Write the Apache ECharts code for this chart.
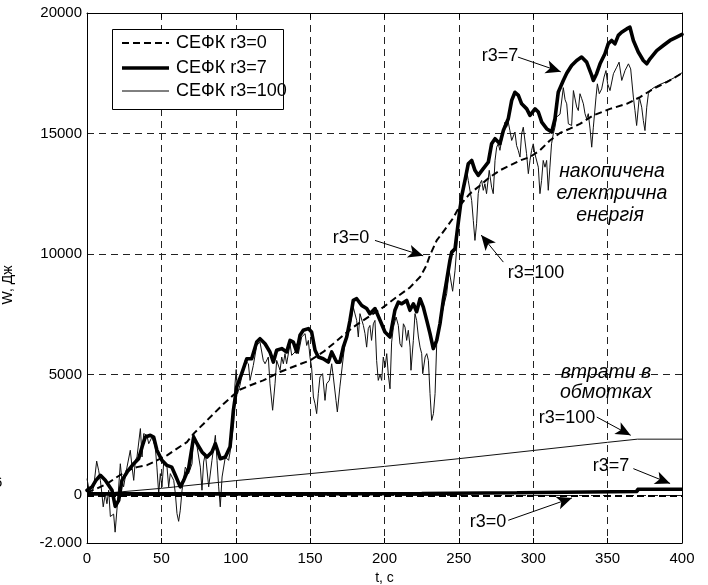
<!DOCTYPE html>
<html>
<head>
<meta charset="utf-8">
<script src="https://cdn.jsdelivr.net/npm/echarts@6/dist/echarts.min.js"></script>
<style>
  html, body { margin: 0; padding: 0; background: #fff; }
  #chart { width: 708px; height: 585px; }
</style>
</head>
<body>
<div id="chart"></div>
<script>
// Накопичена енергія та втрати в обмотках для СЕФК при різних r3
const seriesNames = ['СЕФК r3=0', 'СЕФК r3=7', 'СЕФК r3=100'];

// r3=0: накопичена енергія (штрихова)
const tE0 = [0, 6.7, 13.4, 20.2, 26.9, 33.6, 40.3, 47, 53.8, 60.5, 67.2, 71.7, 78.4, 85.2, 91.9, 98.6, 103, 109.5, 118.5, 129.7, 140.9, 149.9, 158.8, 165.6, 172.3, 179, 185.7, 192.5, 199.2, 208.2, 217, 224, 228, 230.6, 235.1, 241.8, 246.3, 250.7, 257.4, 264.2, 270.9, 277.6, 284.3, 291.1, 297.8, 304.5, 311.2, 318, 324.7, 331.4, 340.4, 351.6, 362.8, 371.8, 380.7, 389.7, 400];
const wE0 = [100, 260, 460, 740, 1000, 1150, 1230, 1430, 1640, 1920, 2190, 2540, 2950, 3370, 3780, 4150, 4370, 4540, 4750, 5100, 5370, 5580, 5930, 6270, 6620, 6960, 7240, 7520, 7790, 8210, 8600, 9050, 9500, 9950, 10560, 11110, 11500, 12010, 12500, 12840, 13190, 13470, 13670, 13880, 14020, 14300, 14710, 15020, 15200, 15400, 15750, 16020, 16230, 16510, 16850, 17130, 17500];

// r3=7: накопичена енергія (товста)
const tE7 = [0, 1.5, 3.4, 6, 9, 12.3, 16.8, 19, 21.3, 23.5, 27, 31.4, 34.7, 37, 39.2, 42.6, 44.8, 47, 50.4, 53.8, 57, 59.4, 62.7, 65, 68.3, 71.7, 74, 77.3, 80.7, 84, 86.3, 89.6, 93, 96.2, 98.4, 100.6, 104, 107.4, 110.7, 114.1, 116.3, 119.7, 123, 125.3, 127.5, 130.9, 134.2, 136.5, 138.7, 141, 143.2, 145.4, 148.8, 151, 153.3, 155.5, 158.8, 162.2, 164.5, 167.8, 170, 172.3, 174.6, 176.8, 179, 181.3, 184.7, 188, 190.2, 193.6, 197, 200.3, 203.7, 207, 209.3, 211.6, 214.9, 217.1, 219.4, 221.6, 223.9, 226.1, 228.4, 230.6, 232.8, 235.1, 237.3, 239.5, 241.8, 244, 245.2, 247.4, 249.6, 251.9, 254.1, 256.3, 258.6, 260.8, 263, 266.4, 269.8, 272, 274.3, 277.6, 279.9, 283.2, 285.5, 287.7, 290, 292.2, 295.6, 297.8, 301.2, 303.4, 305.7, 309, 312.4, 314.6, 316.8, 320.2, 322.5, 325.8, 329.2, 332.5, 335.9, 339.3, 340.4, 342.6, 344.9, 348.2, 350.4, 352.7, 354.9, 357.2, 359.4, 362.8, 365, 367.3, 370.6, 374, 376.3, 378.5, 383, 387.4, 391.9, 396.4, 400];
const wE7 = [190, 250, 330, 600, 810, 600, 190, -480, -230, 600, 950, 1290, 1500, 1990, 2400, 2470, 2400, 1850, 1430, 1220, 1150, 810, 330, 600, 1090, 2400, 2120, 1780, 1570, 1780, 2120, 1500, 1570, 2000, 3500, 4470, 5030, 5650, 5650, 6340, 6480, 6270, 5930, 5510, 6000, 6070, 5930, 6410, 6340, 5930, 6620, 6830, 6900, 6760, 6000, 5720, 5650, 5510, 5930, 5510, 5510, 6130, 6550, 7240, 8070, 8140, 7860, 7730, 7520, 7730, 7250, 6760, 6550, 7660, 8000, 7930, 8070, 7660, 7930, 7600, 8140, 7790, 7240, 6690, 6070, 6410, 7100, 8070, 8900, 9730, 10075, 10210, 11300, 12400, 13050, 13740, 13880, 13470, 13260, 13540, 13810, 14570, 14780, 14570, 15120, 15610, 16370, 16710, 16580, 16230, 16020, 15750, 16020, 15890, 15470, 15200, 15060, 15610, 16710, 17200, 17500, 17820, 18030, 18170, 17960, 17410, 17200, 17480, 17890, 18310, 18720, 18860, 18720, 19070, 19200, 19340, 19410, 18860, 18380, 18030, 17890, 18100, 18440, 18650, 18860, 19000, 19110];

// r3=100: накопичена енергія (тонка)
const tE100 = [0, 1.1, 2.2, 4.5, 6.5, 7.8, 9, 10, 10.9, 12.3, 13.4, 14.6, 15.7, 17.9, 18.9, 20.8, 22.4, 23.5, 24.6, 26.9, 29.1, 30.3, 31.4, 32.5, 33.6, 35.9, 37, 38.1, 40.3, 41.5, 43.7, 45.9, 47, 48.2, 49.3, 50.4, 51.5, 53.8, 54.9, 56, 58.3, 59.4, 60.5, 61.6, 62.7, 63.9, 66.1, 68.3, 70.6, 71.7, 74, 76.2, 77.3, 78.4, 79.6, 81.8, 84, 86.3, 87.4, 88.5, 89.6, 90.8, 93, 95.2, 96.4, 98.6, 99.5, 100.3, 101.2, 102.8, 106.2, 108.5, 109.6, 111.8, 114.1, 116.3, 118.5, 119.7, 121.9, 123, 124.8, 126.4, 127.5, 129.8, 130.9, 132, 133.1, 134.2, 136.5, 137.6, 139.9, 141, 142.1, 144.3, 146.6, 147.7, 148.8, 149.9, 151, 152.2, 153.3, 154.4, 155.5, 156.6, 158.4, 160, 161.1, 162.9, 164.5, 165.6, 167.4, 168.3, 170, 172.3, 173.4, 175.7, 177.9, 179, 181.3, 182.4, 183.5, 185.8, 186.9, 188, 189.1, 190.2, 191.3, 192.5, 193.6, 194.7, 195.8, 197, 198.1, 199.2, 200.4, 201.5, 202.6, 203.7, 204.8, 206, 207.8, 209.3, 210.4, 211.6, 212.7, 213.8, 214.9, 216, 217.2, 217.8, 219.4, 220.5, 221.6, 222.8, 223.9, 225, 225.7, 227.3, 228.4, 229.5, 230.6, 231.7, 232.9, 234, 235.1, 237.3, 239.6, 241.8, 243.5, 245.8, 247.4, 248.5, 249.6, 250.7, 253, 255.2, 256.3, 258.6, 259.7, 260.8, 261.9, 263, 264.2, 265.3, 266.4, 267.5, 268.6, 270.4, 272, 273.1, 274.3, 275.4, 276.5, 277.6, 278.7, 279.9, 281, 282.1, 283.2, 284.3, 285.5, 286.6, 287.7, 288.8, 289.9, 291.1, 292.2, 293.3, 295.5, 296.7, 297.8, 298.9, 300, 301.1, 302.3, 303.4, 304.5, 305.6, 306.7, 307.9, 309, 310.1, 311.2, 312.3, 313.5, 314.6, 315.7, 318, 320.2, 321.4, 322.5, 323.6, 325.8, 327, 329.2, 330.3, 331.4, 332.6, 333.7, 334.8, 335.9, 337, 338.2, 339.3, 340.4, 342.2, 343.1, 344.4, 346, 347.6, 348.9, 350, 351.6, 353.9, 356.1, 357.7, 359.5, 361.7, 364, 365.5, 367.3, 368.4, 369.5, 371.3, 372.9, 374, 375.1, 376.3, 377.4, 378.5, 381, 385, 390, 395, 400];
const wE100 = [670, 600, -90, 330, 1400, 1020, 600, 50, -500, 50, -370, 190, -900, -800, -1550, -100, 1290, 600, 330, 1150, 1850, 1150, 600, 1430, 1570, 2750, 1570, 2540, 2470, 2120, 2400, 1990, 1150, 50, 880, 330, 1290, 1150, 330, 880, 600, 50, -780, -1100, -640, 190, 1150, 880, 1290, 2540, 1990, 1150, 190, 1360, 1710, 330, 1430, 2470, 1430, 330, -500, 740, 1570, 1430, 1850, 2960, 4600, 5200, 4200, 4540, 5580, 5440, 4750, 5370, 6200, 6340, 5580, 5440, 5720, 4610, 3510, 4610, 5580, 5170, 5720, 5440, 5860, 5440, 6270, 5790, 5930, 6270, 5860, 6550, 6690, 6200, 6410, 5720, 5300, 4060, 3780, 3370, 4200, 4890, 5030, 3920, 4610, 4750, 5440, 4890, 3920, 3440, 4480, 5720, 6270, 6690, 7380, 7790, 7240, 6550, 7520, 7030, 6690, 6130, 6900, 7030, 6410, 7100, 7240, 5580, 4750, 5000, 4750, 5720, 5300, 5860, 4960, 4400, 6340, 6960, 7380, 7030, 6270, 6130, 7100, 6960, 6410, 6830, 6130, 5170, 6410, 7520, 7240, 6550, 6130, 5860, 5030, 5720, 5860, 5580, 4200, 3090, 3370, 4200, 6270, 7100, 7790, 8350, 9300, 8450, 9300, 10200, 11500, 12220, 12770, 13470, 13050, 12220, 11390, 10560, 11250, 12500, 12910, 13050, 12640, 12910, 12500, 13470, 12770, 12500, 13880, 14430, 14570, 14300, 14360, 15120, 15470, 15260, 15470, 15120, 14710, 14640, 15060, 14500, 14300, 14020, 14990, 15260, 14160, 13330, 13880, 14300, 14570, 14160, 14160, 13600, 12500, 13050, 13880, 13600, 13880, 12640, 13600, 14570, 14990, 15260, 15680, 15800, 16900, 16400, 16230, 15400, 15330, 16780, 16100, 15950, 16650, 16440, 16230, 15820, 15610, 15820, 15190, 14430, 15260, 16510, 17060, 16650, 16850, 17340, 17610, 17060, 16780, 17480, 17750, 17960, 17200, 17610, 17890, 17680, 16510, 15950, 15330, 16510, 16090, 15540, 15120, 16090, 16650, 16780, 16900, 17030, 17160, 17320, 17520];

// Втрати в обмотках
const tL0 = [0, 400];
const wL0 = [-50, -50];
const tL7 = [0, 140, 225, 289, 370, 400];
const wL7 = [40, 55, 85, 140, 230, 230];
const tL100 = [0, 50, 100, 150, 200, 250, 300, 350, 370, 400];
const wL100 = [0, 270, 590, 880, 1180, 1500, 1840, 2180, 2310, 2310];

// Вісь ординат: підписи, які показуються
const yTickLabels = { '-2000': '-2.000', '0': '0', '5000': '5000', '10000': '10000', '15000': '15000', '20000': '20000' };

// Стрілки до кривих: [t_від, W_від, t_до, W_до]
const arrows = [
  [289.7, 18170, 318.5, 17560],
  [193.6, 10560, 226.0, 9920],
  [279.9, 9660, 265.0, 10780],
  [342.7, 3228, 365.5, 2470],
  [367.3, 1087, 392.0, 470],
  [283.2, -1058, 326.0, -130]
];

const FONT = 'Liberation Sans, Arial, sans-serif';
const zip = (t, w) => t.map((x, i) => [x, w[i]]);

const chart = echarts.init(document.getElementById('chart'), null, { renderer: 'canvas' });

const baseLine = (name, data, style, extra) => Object.assign({
  type: 'line', name, data,
  showSymbol: false, symbol: 'none',
  animation: false, silent: true,
  lineStyle: style,
  itemStyle: { color: '#000' },
  xAxisIndex: 0, yAxisIndex: 0
}, extra || {});

const thinStyle = { color: '#111', width: 1, type: 'solid' };
const thickStyle = { color: '#000', width: 3.6, type: 'solid', join: 'round', cap: 'round' };
const dashStyle = { color: '#000', width: 2, type: [7, 4] };

// Легенда: рамка, зразки ліній і підписи
const legendRows = [
  { y: 43, style: { stroke: '#000', lineWidth: 2, lineDash: [7, 4] } },
  { y: 68, style: { stroke: '#000', lineWidth: 3.6 } },
  { y: 91, style: { stroke: '#000', lineWidth: 1 } }
];
const legendGraphic = [
  { type: 'rect', z: 100, shape: { x: 112.5, y: 29.5, width: 171, height: 80 }, style: { fill: '#fff', stroke: '#000', lineWidth: 1 } }
];
legendRows.forEach((r, i) => {
  legendGraphic.push({ type: 'line', z: 101, shape: { x1: 122, y1: r.y, x2: 169, y2: r.y }, style: r.style });
  legendGraphic.push({ type: 'text', z: 101, x: 176, y: r.y, style: { text: seriesNames[i], font: '18px ' + FONT, fill: '#000', align: 'left', verticalAlign: 'middle' } });
});

const label = (text, x, y, italic) => ({
  type: 'text', z: 50, x, y,
  style: { text, font: (italic ? 'italic 19.5px ' : '18px ') + FONT, fill: '#000', align: 'center', verticalAlign: 'middle' }
});

const option = {
  backgroundColor: '#fff',
  animation: false,
  grid: { left: 87, right: 26, top: 13, bottom: 42, containLabel: false, outerBoundsMode: 'none' },
  xAxis: [{
    type: 'value', min: 0, max: 400, interval: 50,
    name: 't, c', nameLocation: 'middle', nameGap: 25,
    nameTextStyle: { fontSize: 14, color: '#000', fontFamily: FONT },
    axisLine: { show: true, onZero: false, lineStyle: { color: '#000', width: 1 } },
    axisTick: { show: true, inside: true, length: 5, lineStyle: { color: '#000' } },
    axisLabel: { fontSize: 15, color: '#000', fontFamily: FONT, margin: 8 },
    splitLine: { show: true, lineStyle: { color: '#222', width: 1, type: [7, 5] } }
  }, {
    type: 'value', min: 0, max: 400, interval: 50, position: 'top',
    axisLine: { show: true, onZero: false, lineStyle: { color: '#000', width: 1 } },
    axisTick: { show: true, inside: true, length: 5, lineStyle: { color: '#000' } },
    axisLabel: { show: false }, splitLine: { show: false }
  }],
  yAxis: [{
    type: 'value', min: -2000, max: 20000, interval: 1000,
    axisLine: { show: true, onZero: false, lineStyle: { color: '#000', width: 1 } },
    axisTick: { show: false },
    axisLabel: {
      fontSize: 15, color: '#000', fontFamily: FONT, margin: 5,
      verticalAlignMinLabel: 'middle', verticalAlignMaxLabel: 'middle',
      formatter: v => (yTickLabels[String(v)] !== undefined ? yTickLabels[String(v)] : '')
    },
    splitLine: {
      show: true,
      lineStyle: { color: ['rgba(0,0,0,0)', 'rgba(0,0,0,0)', '#222', 'rgba(0,0,0,0)', 'rgba(0,0,0,0)'], width: 1, type: [7, 5] }
    }
  }, {
    type: 'value', min: -2000, max: 20000, position: 'right',
    axisLine: { show: true, onZero: false, lineStyle: { color: '#000', width: 1 } },
    axisTick: { show: false }, axisLabel: { show: false }, splitLine: { show: false }
  }],
  series: [
    baseLine(seriesNames[2], zip(tE100, wE100), thinStyle, { z: 2 }),
    baseLine(seriesNames[2], zip(tL100, wL100), thinStyle, { z: 2 }),
    baseLine(seriesNames[1], zip(tE7, wE7), thickStyle, { z: 3 }),
    baseLine(seriesNames[1], zip(tL7, wL7), { color: '#000', width: 3.6, type: 'solid' }, { z: 3, step: 'end' }),
    baseLine(seriesNames[0], zip(tE0, wE0), dashStyle, { z: 4 }),
    baseLine(seriesNames[0], zip(tL0, wL0), dashStyle, {
      z: 4,
      markLine: {
        silent: true, animation: false,
        symbol: ['none', 'arrow'], symbolSize: [10, 15],
        lineStyle: { color: '#000', width: 1, type: 'solid' },
        itemStyle: { color: '#000' },
        label: { show: false },
        data: arrows.map(a => [{ coord: [a[0], a[1]] }, { coord: [a[2], a[3]] }])
      }
    })
  ],
  graphic: legendGraphic.concat([
    label('r3=7', 500, 56),
    label('r3=0', 351, 238),
    label('r3=100', 536, 273),
    label('накопичена', 612, 172, true),
    label('електрична', 612, 194, true),
    label('енергія', 610, 216, true),
    label('втрати в', 606, 373, true),
    label('обмотках', 606, 393, true),
    label('r3=100', 567, 418),
    label('r3=7', 611, 466),
    label('r3=0', 488, 522),
    { type: 'text', x: 8, y: 285, rotation: Math.PI / 2, style: { text: 'W, Дж', font: '14px ' + FONT, fill: '#000', align: 'center', verticalAlign: 'middle' } },
    { type: 'text', x: -6, y: 483, style: { text: '6', font: '15px ' + FONT, fill: '#000', align: 'left', verticalAlign: 'middle' } }
  ])
};

chart.setOption(option);
</script>
</body>
</html>
